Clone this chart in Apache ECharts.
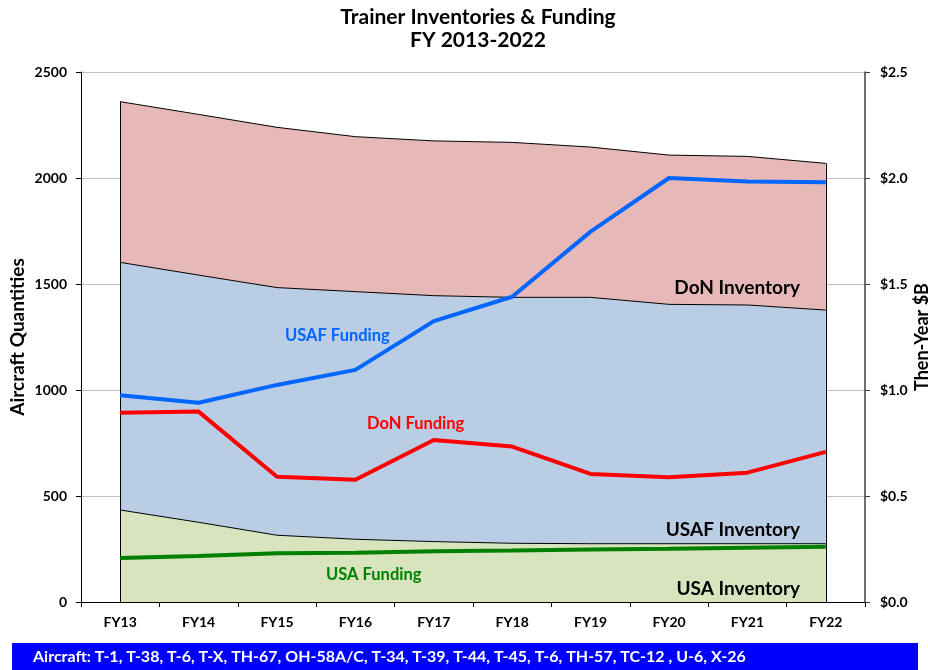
<!DOCTYPE html>
<html>
<head>
<meta charset="utf-8">
<script src="https://cdn.jsdelivr.net/npm/echarts@6/dist/echarts.min.js"></script>
<style>
  html, body { margin: 0; padding: 0; background: #fff; }
  #main { width: 928px; height: 670px; }
</style>
</head>
<body>
<div id="main"></div>
<script>
// fiscal years
var years = ['FY13', 'FY14', 'FY15', 'FY16', 'FY17', 'FY18', 'FY19', 'FY20', 'FY21', 'FY22'];

// inventories (aircraft), stacked bottom -> top
var usaInventory  = [434, 376, 315, 296, 285, 277, 275, 275, 275, 275];
var usafInventory = [1168, 1166, 1168, 1168, 1160, 1160, 1162, 1129, 1126, 1102];
var donInventory  = [758, 758, 756, 731, 730, 731, 709, 704, 701, 692];

// funding, then-year $B
var usafFunding = [0.975, 0.94, 1.024, 1.095, 1.325, 1.44, 1.747, 2.0, 1.983, 1.98];
var donFunding  = [0.893, 0.898, 0.591, 0.577, 0.764, 0.733, 0.604, 0.588, 0.61, 0.708];
var usaFunding  = [0.208, 0.217, 0.23, 0.232, 0.239, 0.243, 0.248, 0.251, 0.256, 0.261];

var aircraftNote = 'Aircraft: T-1, T-38, T-6, T-X, TH-67, OH-58A/C, T-34, T-39, T-44, T-45, T-6, TH-57, TC-12 , U-6, X-26';

var FONT = 'Lato, "Open Sans", sans-serif';

var myChart = echarts.init(document.getElementById('main'));

// total height of the stack at each year, used for the vertical edges
var totals = years.map(function (y, i) {
    return usaInventory[i] + usafInventory[i] + donInventory[i];
});
var last = years.length - 1;

function areaSeries(name, data, color) {
    return {
        name: name,
        type: 'line',
        stack: 'inv',
        data: data,
        symbol: 'none',
        lineStyle: { color: '#000', width: 1 },
        areaStyle: { color: color, opacity: 1 },
        z: 2
    };
}

function fundSeries(name, data, color) {
    return {
        name: name,
        type: 'line',
        yAxisIndex: 1,
        data: data,
        symbol: 'none',
        lineStyle: { color: color, width: 4 },
        z: 5
    };
}

var donArea = areaSeries('DoN Inventory', donInventory, '#E6B8B7');
donArea.markLine = {
    silent: true,
    symbol: 'none',
    label: { show: false },
    lineStyle: { color: '#000', width: 1, type: 'solid' },
    data: [
        [{ coord: [years[0], 0] }, { coord: [years[0], totals[0]] }],
        [{ coord: [years[last], 0] }, { coord: [years[last], totals[last]] }]
    ]
};

function label(text, x, y, color, size, align) {
    return {
        type: 'text',
        x: x,
        y: y,
        z: 10,
        style: {
            text: text, fill: color, align: align || 'left', verticalAlign: 'middle',
            font: 'bold ' + size + 'px ' + FONT
        }
    };
}

var option = {
    animation: false,
    title: {
        text: 'Trainer Inventories & Funding\nFY 2013-2022',
        left: 473,
        textAlign: 'center',
        top: 1,
        textStyle: { fontFamily: FONT, fontWeight: 'bold', fontSize: 21, lineHeight: 23, color: '#000' }
    },
    grid: { left: 81, right: 63, top: 72, bottom: 68, outerBoundsMode: 'none' },
    xAxis: {
        type: 'category',
        data: years,
        boundaryGap: true,
        axisLine: { lineStyle: { color: '#000', width: 1 } },
        axisTick: { show: true, length: 5, lineStyle: { color: '#000' } },
        axisLabel: { color: '#000', fontFamily: FONT, fontWeight: 'bold', fontSize: 14, margin: 13 }
    },
    yAxis: [{
        type: 'value',
        min: 0, max: 2500, interval: 500,
        name: 'Aircraft Quantities',
        nameLocation: 'middle',
        nameRotate: 90,
        nameGap: 54,
        nameMoveOverlap: false,
        nameTextStyle: { color: '#000', fontFamily: FONT, fontWeight: 'bold', fontSize: 19 },
        axisLine: { show: true, lineStyle: { color: '#000' } },
        axisTick: { show: true, length: 5, lineStyle: { color: '#000' } },
        axisLabel: {
            color: '#000', fontFamily: FONT, fontWeight: 'bold', fontSize: 14, margin: 14,
            formatter: function (v) { return String(v); }
        },
        splitLine: { show: true, lineStyle: { color: '#BFBFBF' } }
    }, {
        type: 'value',
        min: 0, max: 2.5, interval: 0.5,
        position: 'right',
        name: 'Then-Year $B',
        nameLocation: 'middle',
        nameRotate: 90,
        nameGap: 48,
        nameMoveOverlap: false,
        nameTextStyle: { color: '#000', fontFamily: FONT, fontWeight: 'bold', fontSize: 18 },
        axisLine: { show: true, lineStyle: { color: '#404040', width: 1.5 } },
        axisTick: { show: true, length: 5, lineStyle: { color: '#404040' } },
        axisLabel: {
            color: '#000', fontFamily: FONT, fontWeight: 'bold', fontSize: 14, margin: 15,
            formatter: function (v) { return '$' + v.toFixed(1); }
        },
        splitLine: { show: false }
    }],
    series: [
        areaSeries('USA Inventory', usaInventory, '#D7E4BD'),
        areaSeries('USAF Inventory', usafInventory, '#B9CDE5'),
        donArea,
        fundSeries('USA Funding', usaFunding, '#008000'),
        fundSeries('DoN Funding', donFunding, '#FF0000'),
        fundSeries('USAF Funding', usafFunding, '#0066FF')
    ],
    graphic: [
        label('DoN Inventory', 800, 288, '#000', 19, 'right'),
        label('USAF Inventory', 800, 530, '#000', 19, 'right'),
        label('USA Inventory', 800, 589, '#000', 19, 'right'),
        label('USAF Funding', 285, 336, '#0066FF', 16.5),
        label('DoN Funding', 367, 424, '#FF0000', 16.5),
        label('USA Funding', 326, 575, '#008000', 16.5),
        {
            type: 'rect',
            x: 12, y: 643, z: 10,
            shape: { width: 906, height: 27 },
            style: { fill: '#0000FF' }
        },
        {
            type: 'text',
            x: 33, y: 657, z: 11,
            style: { text: aircraftNote, fill: '#fff', verticalAlign: 'middle', font: 'bold 16px ' + FONT }
        }
    ]
};

myChart.setOption(option);
</script>
</body>
</html>
